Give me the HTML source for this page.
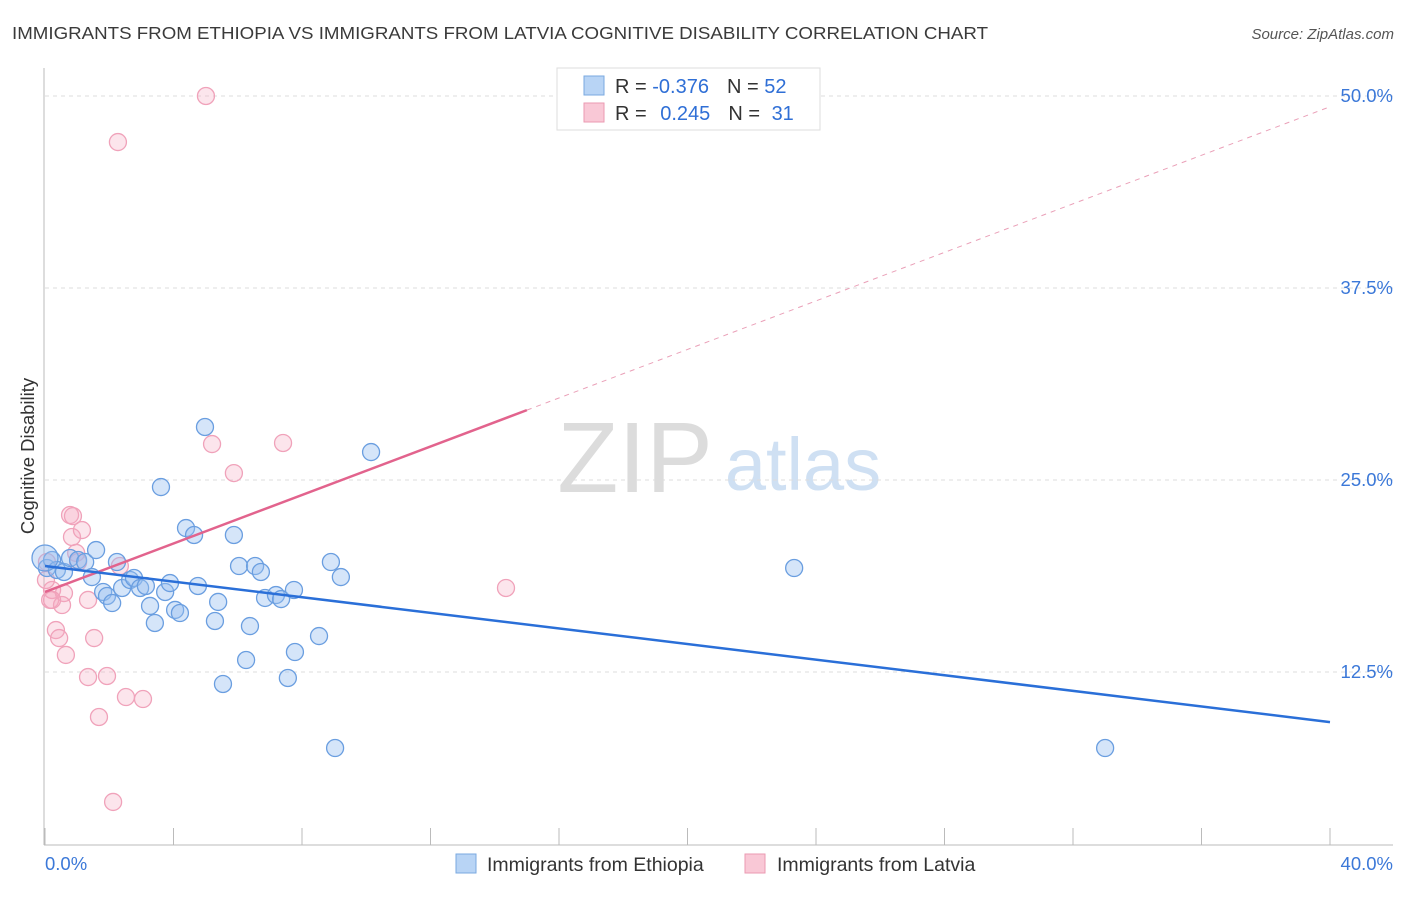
<!DOCTYPE html>
<html><head><meta charset="utf-8"><style>
body{margin:0;background:#fff;font-family:"Liberation Sans",sans-serif;}
svg text{font-family:"Liberation Sans",sans-serif;}
</style></head><body>
<svg width="1406" height="892" xmlns="http://www.w3.org/2000/svg">
<text x="12" y="39" font-size="17.5" fill="#3a3a3a" textLength="976" lengthAdjust="spacingAndGlyphs">IMMIGRANTS FROM ETHIOPIA VS IMMIGRANTS FROM LATVIA COGNITIVE DISABILITY CORRELATION CHART</text>
<text x="1394" y="39" font-size="15" fill="#555" font-style="italic" text-anchor="end">Source: ZipAtlas.com</text>
<text x="34" y="456" font-size="18.5" fill="#333" text-anchor="middle" transform="rotate(-90 34 456)">Cognitive Disability</text>
<g>
<text x="635" y="492" font-size="100" fill="#dcdcdc" font-family="Liberation Serif" text-anchor="middle">ZIP</text>
<text x="803" y="490" font-size="74" fill="#cfe0f3" text-anchor="middle">atlas</text>
</g>
<g id="grid"></g>
<g id="axes"></g>
<g id="marks"></g>
<g>
<rect x="557" y="68" width="263" height="62" fill="#fff" stroke="#ddd"/>
<rect x="584" y="76" width="20" height="19" fill="#b8d4f5" stroke="#7aa9e0"/>
<rect x="584" y="103" width="20" height="19" fill="#f9c8d6" stroke="#eb9ab2"/>
<text x="615" y="93" font-size="20" fill="#333">R = <tspan fill="#2f6fd6">-0.376</tspan><tspan dx="18">N = </tspan><tspan fill="#2f6fd6">52</tspan></text>
<text x="615" y="120" font-size="20" fill="#333">R = <tspan dx="8" fill="#2f6fd6">0.245</tspan><tspan dx="18">N = </tspan><tspan dx="6" fill="#2f6fd6">31</tspan></text>
</g>
<g>
<rect x="456" y="854" width="20" height="19" fill="#b8d4f5" stroke="#7aa9e0"/>
<text x="487" y="871" font-size="19.5" fill="#333">Immigrants from Ethiopia</text>
<rect x="745" y="854" width="20" height="19" fill="#f9c8d6" stroke="#eb9ab2"/>
<text x="777" y="871" font-size="19.5" fill="#333">Immigrants from Latvia</text>
</g>
</svg>
<script>
const xTickLabels=["0.0%","40.0%"];
const yTicks=[12.5,25,37.5,50];
const yTickLabels=["12.5%","25.0%","37.5%","50.0%"];
const ethX=[0.06,0.22,0.37,0.59,0.78,1.03,1.25,1.46,1.59,1.81,1.93,2.09,2.24,2.40,2.65,2.77,2.96,3.14,3.27,3.42,3.61,3.74,3.89,4.05,4.20,4.39,4.64,4.76,4.98,5.29,5.39,5.54,5.88,6.04,6.26,6.38,6.54,6.72,6.85,7.19,7.35,7.56,7.75,7.78,8.53,8.90,9.03,9.21,10.15,23.32,33.00,0.0];
const ethY=[19.27,19.79,19.14,19.01,19.92,19.79,19.66,18.68,20.44,17.71,17.45,16.99,19.66,17.97,18.49,18.62,17.97,18.10,16.80,15.69,24.54,17.71,18.29,16.54,16.34,21.87,21.42,18.10,28.45,15.82,17.06,11.72,21.42,19.40,13.28,15.49,19.40,19.01,17.32,17.51,17.25,12.11,17.84,13.80,14.84,19.66,7.55,18.68,26.82,19.27,7.55,19.92];
const latX=[0.06,0.16,0.22,0.34,0.44,0.59,0.65,0.78,0.87,0.84,0.97,1.03,1.15,1.34,1.34,1.53,1.68,1.93,2.12,2.27,2.33,2.52,3.05,5.01,5.20,5.88,7.41,14.35,0.53,0.22,0.03];
const latY=[19.66,17.19,17.84,15.23,14.71,17.64,13.61,22.72,22.65,21.29,20.25,19.66,21.74,17.19,12.17,14.71,9.57,12.24,4.04,47.00,19.40,10.87,10.74,50.00,27.34,25.45,27.41,17.97,16.86,17.19,18.49];
const ethTrend=[0,19.40,40,9.24];
const latTrend=[0,17.71,15.0,29.55,40,49.3];
const NS="http://www.w3.org/2000/svg";
const sx=v=>45+v/40*1285;
const sy=v=>864-v/12.5*192;
function mk(tag,attrs,parent){const e=document.createElementNS(NS,tag);for(const k in attrs)e.setAttribute(k,attrs[k]);document.getElementById(parent).appendChild(e);return e;}
yTicks.forEach((t,i)=>{
 const g=mk('line',{x1:45,x2:1393,y1:sy(t),y2:sy(t),stroke:'#ddd','stroke-dasharray':'4,4'},'grid');
 
 
 const l=mk('text',{x:1393,y:sy(t)+6,'font-size':18.5,fill:'#3b78d8','text-anchor':'end'},'grid');
 l.textContent=yTickLabels[i];
 
 
});
const ax=mk('line',{x1:44,x2:44,y1:68,y2:845,stroke:'#bbb'},'axes');


const bx=mk('line',{x1:44,x2:1393,y1:845,y2:845,stroke:'#bbb'},'axes');


for(let k=0;k<=10;k++){const t=mk('line',{x1:sx(k*4),x2:sx(k*4),y1:828,y2:845,stroke:'#bbb'},'axes');
 
 }
[[0,'start',45],[40,'end',1393]].forEach((d,i)=>{const t=mk('text',{x:d[2],y:870,'font-size':18.5,fill:'#3b78d8','text-anchor':d[1]},'axes');t.textContent=xTickLabels[i];
 
 });
latX.forEach((x,i)=>{const c=mk('circle',{cx:sx(x),cy:sy(latY[i]),r:8.5,fill:'rgba(246,168,192,0.3)',stroke:'#f0a2ba','stroke-width':1.3},'marks');
 
 });
ethX.forEach((x,i)=>{const c=mk('circle',{cx:sx(x),cy:sy(ethY[i]),r:i==51?13:8.5,fill:'rgba(150,190,240,0.4)',stroke:'#6a9ee0','stroke-width':1.3},'marks');
 
 });
const l1=mk('line',{x1:sx(latTrend[0]),y1:sy(latTrend[1]),x2:sx(latTrend[2]),y2:sy(latTrend[3]),stroke:'#e2638d','stroke-width':2.5},'marks');


const l2=mk('line',{x1:sx(latTrend[2]),y1:sy(latTrend[3]),x2:sx(latTrend[4]),y2:sy(latTrend[5]),stroke:'#eaa0b8','stroke-width':1,'stroke-dasharray':'5,5'},'marks');


const l3=mk('line',{x1:sx(ethTrend[0]),y1:sy(ethTrend[1]),x2:sx(ethTrend[2]),y2:sy(ethTrend[3]),stroke:'#2a6fd8','stroke-width':2.5},'marks');


</script>
</body></html>
